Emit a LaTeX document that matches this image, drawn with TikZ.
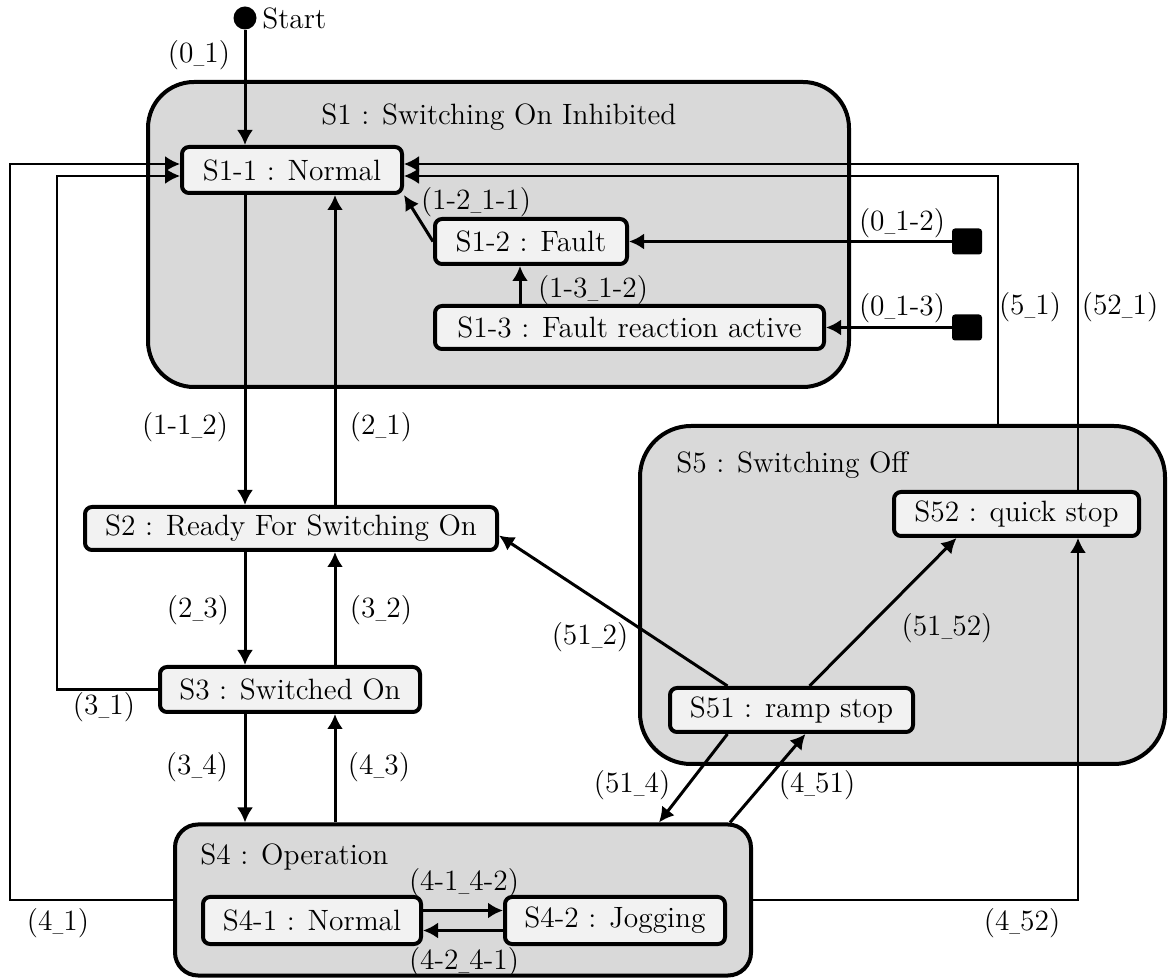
\documentclass[tikz,border=0pt]{standalone}
\usetikzlibrary{arrows.meta}
\definecolor{outerfill}{RGB}{217,217,217}
\definecolor{innerfill}{RGB}{242,242,242}
\newcommand\statefont{\fontsize{14.7}{17}\selectfont}
\newcommand\usc{\scalebox{0.5}[1]{\_}}

\begin{document}
\begin{tikzpicture}[x=0.5pt,y=-0.5pt,
  superstate/.style={draw, fill=outerfill, line width=2pt, inner sep=0pt},
  substate/.style={draw, fill=innerfill, line width=2pt, rounded corners=3.5pt, inner sep=0pt, minimum height=22.5pt, font=\statefont},
  initsq/.style={fill, rounded corners=1.5pt, minimum width=15pt, minimum height=13pt, inner sep=0pt},
  trans/.style={line width=1.5pt, -{Latex[length=7.5pt,width=8pt]}},
  route/.style={line width=1.1pt, -{Latex[length=7.5pt,width=8pt]}},
  tlabel/.style={inner sep=0pt, font=\statefont}]
\useasboundingbox (0,0) rectangle (1169,978);
\node[superstate, rounded corners=23pt, minimum width=350.5pt, minimum height=152.5pt] (S1) at (498.5,234.5) {};
\node[superstate, rounded corners=25.5pt, minimum width=262.5pt, minimum height=169pt] (S5) at (902.5,595) {};
\node[superstate, rounded corners=11.5pt, minimum width=288pt, minimum height=75.5pt] (S4) at (463,900) {};
\node[tlabel] (S1title) at (499,117) {S1 : Switching On Inhibited};
\node[tlabel, anchor=west] (S5title) at (676,465) {S5 : Switching Off};
\node[tlabel, anchor=west] (S4title) at (200,857) {S4 : Operation};
\node[substate, minimum width=110pt, minimum height=23pt] (S11) at (292,170) {S1-1 : Normal};
\node[substate, minimum width=96pt] (S12) at (531,241.5) {S1-2 : Fault};
\node[substate, minimum width=194.5pt, minimum height=21.5pt] (S13) at (629.5,327.5) {S1-3 : Fault reaction active};
\node[substate, minimum width=206pt, minimum height=21.5pt] (S2) at (291,528.5) {S2 : Ready For Switching On};
\node[substate, minimum width=130pt] (S3) at (290,689.5) {S3 : Switched On};
\node[substate, minimum width=122.5pt, minimum height=22pt] (S52) at (1016.5,514) {S52 : quick stop};
\node[substate, minimum width=121.5pt, minimum height=22pt] (S51) at (791.5,710) {S51 : ramp stop};
\node[substate, minimum width=109pt, minimum height=23.5pt] (S41) at (312,920.5) {S4-1 : Normal};
\node[substate, minimum width=110pt, minimum height=23.5pt] (S42) at (615,920.5) {S4-2 : Jogging};
\node[circle, fill, minimum size=11.5pt, inner sep=0pt, label={[tlabel, label distance=2.5pt]right:Start}] (start) at (245,18) {};
\node[initsq] (init12) at (967,241.5) {};
\node[initsq] (init13) at (967,327.5) {};
\coordinate (rcol) at (335,0);
\coordinate (c31) at (57,176);
\coordinate (c41) at (10,164);
\coordinate (c51) at (998,0);
\coordinate (c521) at (1078,0);
\draw[trans] (start) -- (start |- S11.north);
\draw[trans] (S11.south -| start) -- (S2.north -| start);
\draw[trans] (S2.north -| rcol) -- (S11.south -| rcol);
\draw[trans] (S2.south -| start) -- (S3.north -| start);
\draw[trans] (S3.north -| rcol) -- (S2.south -| rcol);
\draw[trans] (S3.south -| start) -- (S4.north -| start);
\draw[trans] (S4.north -| rcol) -- (S3.south -| rcol);
\draw[trans] (S12.west) -- (S11.south east);
\draw[trans] ([xshift=-5.5pt]S12.south |- S13.north) -- ([xshift=-5.5pt]S12.south);
\draw[trans] (init12) -- (S12.east);
\draw[trans] (init13) -- (S13.east);
\draw[route] (S3.west) -| (c31) -- ([yshift=-3pt]S11.west);
\draw[route] (S4.west) -| (c41) -- ([yshift=3pt]S11.west);
\draw[route] (S4.east) -| (c521 |- S52.south);
\draw[route] (c521 |- S52.north) |- ([yshift=3pt]S11.east);
\draw[route] (c51 |- S5.north) |- ([yshift=-3pt]S11.east);
\draw[trans] ([xshift=-32pt]S51.north) -- ([yshift=-3.5pt]S2.east);
\draw[trans] ([xshift=9pt]S51.north) -- ([xshift=-30pt]S52.south);
\draw[trans] ([xshift=-32pt]S51.south) -- ([xshift=98pt]S4.north);
\draw[trans] ([xshift=133.5pt]S4.north) -- ([xshift=7pt]S51.south);
\draw[trans] ([yshift=5pt]S41.east) -- ([yshift=5pt]S42.west);
\draw[trans] ([yshift=-5pt]S42.west) -- ([yshift=-5pt]S41.east);
\node[tlabel] (l01) at (199,55) {(0\usc1)};
\node[tlabel] (l121) at (476,202) {(1-2\usc1-1)};
\node[tlabel] (l1312) at (593,290) {(1-3\usc1-2)};
\node[tlabel] (l012) at (902,223) {(0\usc1-2)};
\node[tlabel] (l013) at (902,308) {(0\usc1-3)};
\node[tlabel] (l51) at (1030,307) {(5\usc1)};
\node[tlabel] (l521) at (1120,307) {(52\usc1)};
\node[tlabel] (l112) at (185,427) {(1-1\usc2)};
\node[tlabel] (l21) at (381,427) {(2\usc1)};
\node[tlabel] (l23) at (198,610) {(2\usc3)};
\node[tlabel] (l32) at (381,610) {(3\usc2)};
\node[tlabel] (l31) at (104,707) {(3\usc1)};
\node[tlabel] (l34) at (197,767) {(3\usc4)};
\node[tlabel] (l43) at (379,767) {(4\usc3)};
\node[tlabel] (l512) at (590,637) {(51\usc2)};
\node[tlabel] (l5152) at (947,628) {(51\usc52)};
\node[tlabel] (l514) at (632,785) {(51\usc4)};
\node[tlabel] (l451) at (817,785) {(4\usc51)};
\node[tlabel] (l4142) at (464,883) {(4-1\usc4-2)};
\node[tlabel] (l4241) at (464,962) {(4-2\usc4-1)};
\node[tlabel] (l41) at (58,923) {(4\usc1)};
\node[tlabel] (l452) at (1022,923) {(4\usc52)};
\end{tikzpicture}
\end{document}
